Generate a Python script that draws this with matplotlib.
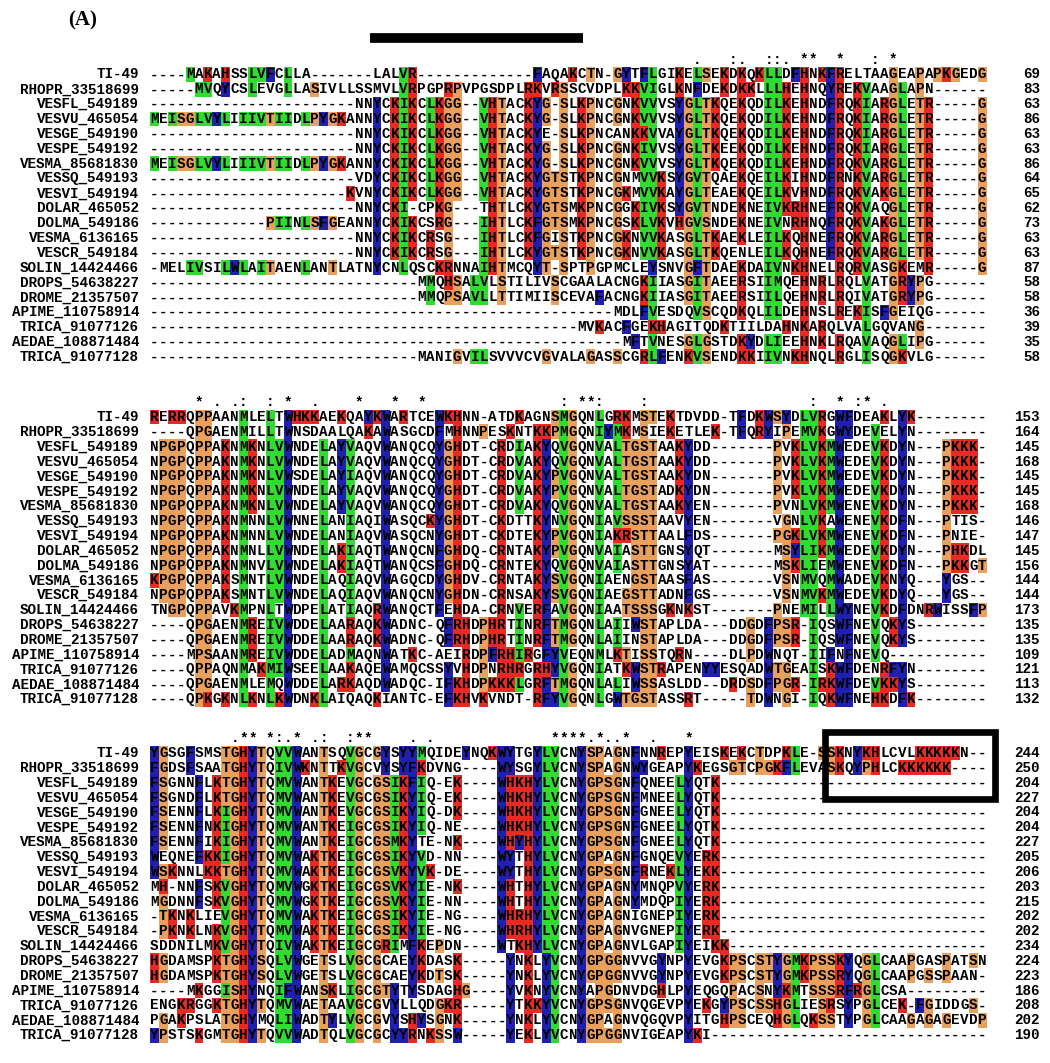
import matplotlib
matplotlib.use("Agg")
import matplotlib.pyplot as plt
from matplotlib.patches import Rectangle

names = ["TI-49", "RHOPR_33518699", "VESFL_549189", "VESVU_465054", "VESGE_549190",
         "VESPE_549192", "VESMA_85681830", "VESSQ_549193", "VESVI_549194", "DOLAR_465052",
         "DOLMA_549186", "VESMA_6136165", "VESCR_549184", "SOLIN_14424466", "DROPS_54638227",
         "DROME_21357507", "APIME_110758914", "TRICA_91077126", "AEDAE_108871484", "TRICA_91077128"]

block1 = [
    "----MAKAHSSLVFCLLA-------LALVR-------------FAQAKCTN-GYTFLGIKELSEKDKQKLLDFHNKFRELTAAGEAPAPKGEDG",
    "-----MVQYCSLEVGLLASIVLLSSMVLVRPGPRPVPGSDPLRKVRSSCVDPLKKVIGLKNFDEKDKKLLLHEHNQYREKVAAGLAPN------",
    "-----------------------NNYCKIKCLKGG--VHTACKYG-SLKPNCGNKVVVSYGLTKQEKQDILKEHNDFRQKIARGLETR-----G",
    "MEISGLVYLIIIVTIIDLPYGKANNYCKIKCLKGG--VHTACKYG-SLKPNCGNKVVVSYGLTKQEKQDILKEHNDFRQKIARGLETR-----G",
    "-----------------------NNYCKIKCLKGG--VHTACKYE-SLKPNCANKKVVAYGLTKQEKQDILKEHNDFRQKIARGLETR-----G",
    "-----------------------NNYCKIKCLKGG--VHTACKYG-SLKPNCGNKIVVSYGLTKEEKQDILKEHNDFRQKIARGLETR-----G",
    "MEISGLVYLIIIVTIIDLPYGKANNYCKIKCLKGG--VHTACKYG-SLKPNCGNKVVVSYGLTKQEKQDILKEHNDFRQKVARGLETR-----G",
    "-----------------------VDYCKIKCLKGG--VHTACKYGTSTKPNCGNMVVKSYGVTQAEKQEILKIHNDFRNKVARGLETR-----G",
    "----------------------KVNYCKIKCLKGG--VHTACKYGTSTKPNCGKMVVKAYGLTEAEKQEILKVHNDFRQKVAKGLETR-----G",
    "-----------------------NNYCKI-CPKG---THTLCKYGTSMKPNCGGKIVKSYGVTNDEKNEIVKRHNEFRQKVAQGLETR-----G",
    "-------------PIINLSFGEANNYCKIKCSRG---IHTLCKFGTSMKPNCGSKLVKVHGVSNDEKNEIVNRHNQFRQKVAKGLETR-----G",
    "-----------------------NNYCKIKCRSG---IHTLCKFGISTKPNCGKNVVKASGLTKAEKLEILKQHNEFRQKVARGLETR-----G",
    "-----------------------NNYCKIKCRSG---IHTLCKYGTSTKPNCGKNVVKASGLTKQENLEILKQHNEFRQKVARGLETR-----G",
    "-MELIVSILWLAITAENLANTLATNYCNLQSCKRNNAIHTMCQYT-SPTPGPMCLEYSNVGFTDAEKDAIVNKHNELRQRVASGKEMR-----G",
    "------------------------------MMQHSALVLSTILIVSCGAALACNGKIIASGITAEERSIIMQEHNRLRQLVATGRYPG------",
    "------------------------------MMQPSAVLLTTIMIISCEVAFACNGKIIASGITAEERSIILQEHNRLRQIVATGRYPG------",
    "----------------------------------------------------MDLFVESDQVSCQDKQLILDEHNSLREKISFGEIQG------",
    "------------------------------------------------MVKACFGEKHAGITQDKTIILDAHNKARQLVALGQVANG-------",
    "-----------------------------------------------------MFTVNESGLGSTDKYDLIEEHNKLRQAVAQGLIPG------",
    "------------------------------MANIGVILSVVVCVGVALAGASSCGRLFENKVSENDKKIIVNKHNQLRGLISQGKVLG------",
]

block2 = [
    "RERRQPPAANMLELTWHKKAEKQAYKWARTCEWKHNN-ATDKAGNSMGQNLGRKMSTEKTDVDD-TFDKWSYDLVRGWFDEAKLYK--------",
    "----QPGAENMILLTWNSDAALQAKAWASGCDFMHNNPESKNTKKPMGQNIYMKMSIEKETLEK-TFQRYIPEMVKGWYDEVELYN--------",
    "NPGPQPPAKNMKNLVWNDELAYVAQVWANQCQYGHDT-CRDIAKYQVGQNVALTGSTAAKYDD-------PVKLVKMWEDEVKDYN---PKKK-",
    "NPGPQPPAKNMKNLVWNDELAYVAQVWANQCQYGHDT-CRDVAKYQVGQNVALTGSTAAKYDD-------PVKLVKMWEDEVKDYN---PKKK-",
    "NPGPQPPAKNMKNLVWSDELAYIAQVWANQCQYGHDT-CRDVAKYPVGQNVALTGSTAAKYDN-------PVKLVKMWEDEVKDYN---PKKK-",
    "NPGPQPPAKNMKNLVWNDELAYVAQVWANQCQYGHDT-CRDVAKYPVGQNVALTGSTADKYDN-------PVKLVKMWEDEVKDYN---PKKK-",
    "NPGPQPPAKNMKNLVWNDELAYVAQVWANQCQYGHDT-CRDVAKYQVGQNVALTGSTAAKYEN-------PVNLVKMWENEVKDYN---PKKK-",
    "NPGPQPPAKNMNNLVWNNELANIAQIWASQCKYGHDT-CKDTTKYNVGQNIAVSSSTAAVYEN-------VGNLVKAWENEVKDFN---PTIS-",
    "NPGPQPPAKNMNNLVWNDELANIAQVWASQCNYGHDT-CKDTEKYPVGQNIAKRSTTAALFDS-------PGKLVKMWENEVKDFN---PNIE-",
    "NPGPQPPAKNMNLLVWNDELAKIAQTWANQCNFGHDQ-CRNTAKYPVGQNVAIASTTGNSYQT-------MSYLIKMWEDEVKDYN---PHKDL",
    "NPGPQPPAKNMNVLVWNDELAKIAQTWANQCSFGHDQ-CRNTEKYQVGQNVAIASTTGNSYAT-------MSKLIEMWENEVKDFN---PKKGT",
    "KPGPQPPAKSMNTLVWNDELAQIAQVWAGQCDYGHDV-CRNTAKYSVGQNIAENGSTAASFAS-------VSNMVQMWADEVKNYQ---YGS--",
    "NPGPQPPAKSMNTLVWNDELAQIAQVWANQCNYGHDN-CRNSAKYSVGQNIAEGSTTADNFGS-------VSNMVKMWEDEVKDYQ---YGS--",
    "TNGPQPPAVKMPNLTWDPELATIAQRWANQCTFEHDA-CRNVERFAVGQNIAATSSSGKNKST-------PNEMILLWYNEVKDFDNRWISSFP",
    "----QPGAENMREIVWDDELAARAQKWADNC-QFRHDPHRTINRFTMGQNLAIIWSTAPLDA---DDGDFPSR-IQSWFNEVQKYS--------",
    "----QPGAENMREIVWDDELAARAQKWADNC-QFRHDPHRTINRFTMGQNLAIINSTAPLDA---DDGDFPSR-IQSWFNEVQKYS--------",
    "----MPSAANMREIVWDDELADMAQNWATKC-AEIRDPFRHIRGFYVEQNMLKTISSTQRN----DLPDWNQT-IIFNFNEVQ-----------",
    "----QPPAQNMAKMIWSEELAAKAQEWAMQCSSYVHDPNRHRGRHYVGQNIATKWSTRAPENYYESQADWTGEAISKWFDENRFYN--------",
    "----QPGAENMLEMQWDDELARKAQDWADQC-IFKHDPKKKLGRFTMGQNLALIWSSASLDD--DRDSDFPGR-IRKWFDEVKKYS--------",
    "----QPKGKNLKNLKWDNKLAIQAQKIANTC-EFKHVKVNDT-RFYVGQNLGWTGSTASSRT-----TDWNGI-IQKWFNEHKDFK--------",
]

block3 = [
    "YGSGFSMSTGHYTQVVWANTSQVGCGYSYYMQIDEYNQKWYTGYLVCNYSPAGNFNNREPYEISKEKCTDPKLE-SSKNYKHLCVLKKKKKN--",
    "FGDSFSAATGHYTQIVWKNTTKVGCVYSYFKDVNG----WYSGYLVCNYSPAGNWYGEAPYKEGSGTCPGKFLEVASKQYPHLCKKKKKK----",
    "FSGNNFLKTGHYTQMVWANTKEVGCGSIKFIQ-EK----WHKHYLVCNYGPSGNFQNEELYQTK------------------------------",
    "FSGNDFLKTGHYTQMVWANTKEVGCGSIKYIQ-EK----WHKHYLVCNYGPSGNFMNEELYQTK------------------------------",
    "FSENNFLKIGHYTQMVWANTKEVGCGSIKYIQ-DK----WHKHYLVCNYGPSGNFGNEELYQTK------------------------------",
    "FSENNFNKIGHYTQMVWANTKEIGCGSIKYIQ-NE----WHKHYLVCNYGPSGNFGNEELYQTK------------------------------",
    "FSENNFIKIGHYTQMVWANTKEIGCGSMKYTE-NK----WHYHYLVCNYGPSGNFGNEELYQTK------------------------------",
    "WEQNEFKKIGHYTQMVWAKTKEIGCGSIKYVD-NN----WYTHYLVCNYGPAGNFGNQEVYERK------------------------------",
    "WSKNNLKKTGHYTQMVWAKTKEIGCGSVKYVK-DE----WYTHYLVCNYGPSGNFRNEKLYEKK------------------------------",
    "MH-NNFSKVGHYTQMVWGKTKEIGCGSVKYIE-NK----WHTHYLVCNYGPAGNYMNQPVYERK------------------------------",
    "MGDNNFSKVGHYTQMVWGKTKEIGCGSVKYIE-NN----WHTHYLVCNYGPAGNYMDQPIYERK------------------------------",
    "-TKNKLIEVGHYTQMVWAKTKEIGCGSIKYIE-NG----WHRHYLVCNYGPAGNIGNEPIYERK------------------------------",
    "-PKNKLNKVGHYTQMVWAKTKEIGCGSIKYIE-NG----WHRHYLVCNYGPAGNVGNEPIYERK------------------------------",
    "SDDNILMKVGHYTQIVWAKTKEIGCGRIMFKEPDN----WTKHYLVCNYGPAGNVLGAPIYEIKK-----------------------------",
    "HGDAMSPKTGHYSQLVWGETSLVGCGCAEYKDASK-----YNKLYVCNYGPGGNVVGYNPYEVGKPSCSTYGMKPSSKYQGLCAAPGASPATSN",
    "HGDAMSPKTGHYSQLVWGETSLVGCGCAEYKDTSK-----YNKLYVCNYGPGGNVVGYNPYEVGKPSCSTYGMKPSSRYQGLCAAPGSSPAAN-",
    "----MKGGISHYNQIFWANSKLIGCGTYTYSDAGHG----YVKNYVCNYAPGDNVDGHLPYEQGQPACSNYKMTSSSRFRGLCSA---------",
    "ENGKRGGKTGHYTQMVWAETAAVGCGVYLLQDGKR-----YTKKYVCNYGPSGNVQGEVPYEKGYPSCSSHGLIESRSYPGLCEK-FGIDDGS-",
    "PGAKPSLATGHYMQLIWADTYLVGCGVYSHYSGNK-----YNKLYVCNYGPAGNVQGQVPYITGHPSCEQHGLQKSSTYPGLCAAGAGAGEVDP",
    "YPSTSKGMTGHYTQVVWADTQLVGCGCYYRNKSSW-----YEKLYVCNYGPGGNVIGEAPYKI-------------------------------",
]

ends1 = [69, 83, 63, 86, 63, 63, 86, 64, 65, 62, 73, 63, 63, 87, 58, 58, 36, 39, 35, 58]
ends2 = [153, 164, 145, 168, 145, 145, 168, 146, 147, 145, 156, 144, 144, 173, 135, 135, 109, 121, 113, 132]
ends3 = [244, 250, 204, 227, 204, 204, 227, 205, 206, 203, 215, 202, 202, 234, 224, 223, 186, 208, 202, 190]

# conservation marks: column (1-based) -> symbol
cons1 = {62: '.', 66: ':', 67: '.', 70: ':', 71: ':', 72: '.', 74: '*', 75: '*', 78: '*', 82: ':', 84: '*'}
cons2 = {6: '*', 8: '.', 10: '.', 11: ':', 14: ':', 16: '*', 19: '.', 24: '*', 28: '*', 31: '*',
         47: ':', 49: '*', 50: '*', 51: ':', 56: ':', 75: ':', 78: '*', 80: ':', 81: '*', 83: '.'}
cons3 = {10: '.', 11: '*', 12: '*', 14: '*', 15: ':', 16: '.', 17: '*', 19: '.', 20: ':', 23: ':',
         24: '*', 25: '*', 30: '.', 32: '.', 46: '*', 47: '*', 48: '*', 49: '*', 50: '.', 51: '*',
         52: '.', 53: '.', 54: '*', 57: '.', 61: '*'}

NCOL = 94
blocks = [block1, block2, block3]
ends = [ends1, ends2, ends3]
conss = [cons1, cons2, cons3]

COLORS = {'r': '#E82A22', 'b': '#2020B0', 'g': '#2FDC2F', 'o': '#E8A05C'}
CLASS = {}
for c in "KRH":
    CLASS[c] = 'r'
for c in "FWY":
    CLASS[c] = 'b'
for c in "ILVM":
    CLASS[c] = 'g'
for c in "GPST":
    CLASS[c] = 'o'

W, H = 1050, 1063
fig = plt.figure(figsize=(W / 100, H / 100), dpi=100)
ax = fig.add_axes([0, 0, 1, 1])
ax.set_xlim(0, W)
ax.set_ylim(H, 0)
ax.axis('off')

X0 = 150.0
CW = 8.9
RH = 14.85
block_y0 = [74.5, 417.0, 753.0]
FONT = dict(family="Liberation Mono", weight="bold", fontsize=10.3, color="black")

for bi, block in enumerate(blocks):
    y0 = block_y0[bi]
    counts = []
    for j in range(NCOL):
        col = [row[j] for row in block if j < len(row) and row[j] != '-']
        d = {}
        for ch in col:
            k = CLASS.get(ch)
            if k:
                d[k] = d.get(k, 0) + 1
        counts.append((max(len(col), 1), d))
    for ri, row in enumerate(block):
        y = y0 + ri * RH
        ax.text(139, y, names[ri], ha='right', va='center', **FONT)
        ax.text(1040, y, str(ends[bi][ri]), ha='right', va='center', **FONT)
        for j, ch in enumerate(row):
            x = X0 + j * CW
            k = CLASS.get(ch)
            if k:
                n, d = counts[j]
                colored = k in ('r', 'b') or d.get(k, 0) / n >= 0.5
                if colored:
                    ax.add_patch(Rectangle((x, y - RH / 2), CW, RH, facecolor=COLORS[k],
                                           edgecolor='none', zorder=1))
            ax.text(x + CW / 2, y, ch, ha='center', va='center', zorder=3, **FONT)
    for col, sym in conss[bi].items():
        ax.text(X0 + (col - 0.5) * CW, y0 - RH, sym, ha='center', va='center', **FONT)

# header
ax.text(68, 20, "(A)", ha='left', va='center', fontsize=15, fontweight='bold', family='Liberation Serif')
ax.plot([370, 583], [38, 38], color='black', lw=7, solid_capstyle='butt')

# highlight box in block 3
ax.add_patch(Rectangle((824.5, 732.0), 170.0, 66.5, fill=False, edgecolor='black', lw=4.8, zorder=5))

fig.savefig("out.png", dpi=100)
